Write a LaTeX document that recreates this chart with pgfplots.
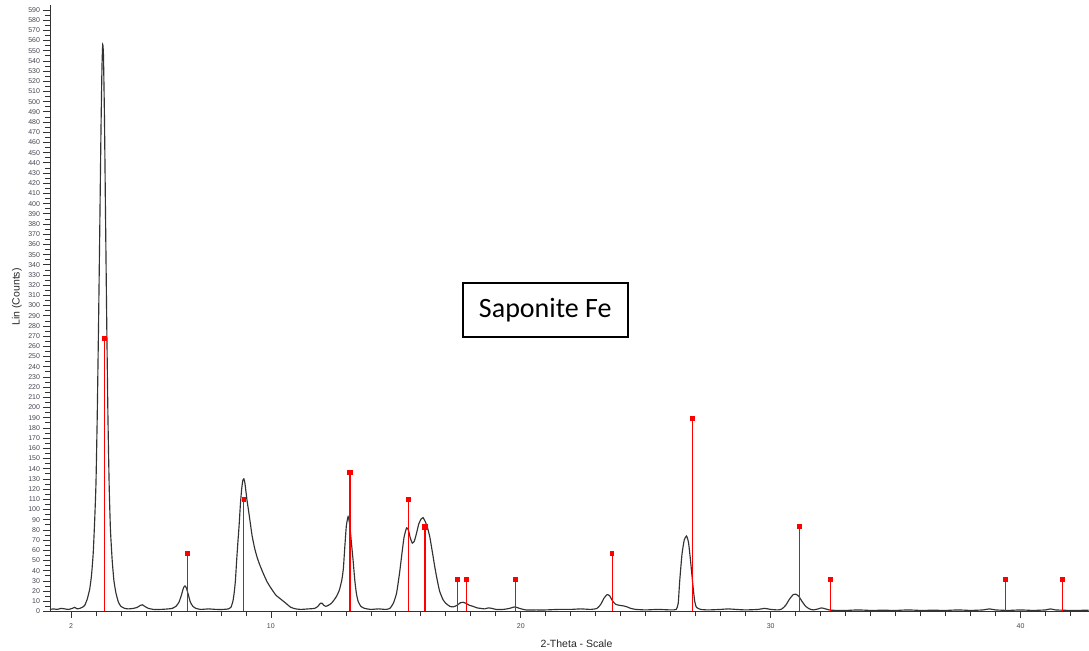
\documentclass[border=0pt]{standalone}
\usepackage{pgfplots}
\pgfplotsset{compat=1.18}
\usepackage{pgfplotstable}
\usepackage{fontspec}
\setmainfont{Liberation Sans}
\newfontfamily\calibri{Carlito}
\definecolor{tickgray}{RGB}{70,70,85}
\definecolor{curvegray}{RGB}{50,50,50}
\definecolor{stickred}{RGB}{255,0,0}

\pgfplotstableread{
x y
1.16 2
1.3 2.5
1.45 2
1.6 3
1.75 2.5
1.9 2
2.05 3
2.15 4
2.25 2.5
2.35 3
2.45 4
2.55 6
2.65 12
2.75 22
2.82 35
2.89 57
2.95 90
3.00 125
3.05 190
3.10 275
3.15 370
3.20 470
3.24 533
3.27 556
3.30 546
3.34 485
3.38 395
3.43 286
3.48 190
3.53 122
3.58 80
3.65 50
3.72 30
3.80 18
3.90 9
4.00 5
4.15 3
4.3 2.5
4.5 3
4.65 4
4.78 6
4.86 6.5
4.95 5
5.1 3
5.3 2
5.6 2
5.9 2.5
6.05 3
6.2 5
6.32 9
6.42 16
6.5 23
6.56 25
6.62 23
6.7 16
6.78 9
6.88 5
7.0 3
7.2 2
7.5 2.5
7.8 2
8.1 2
8.3 2.5
8.40 4
8.48 10
8.53 18
8.58 30
8.63 50
8.68 68
8.73 85
8.78 105
8.83 120
8.88 129
8.92 130
8.96 126
9.00 118
9.05 108
9.10 100
9.18 86
9.25 74
9.35 62
9.45 53
9.55 46
9.70 37
9.85 29
10.0 23
10.2 16
10.4 12
10.6 8
10.8 4
11.0 2.5
11.2 2
11.5 2.5
11.75 3
11.88 5
11.98 8
12.05 8
12.12 6
12.2 5
12.3 6
12.42 8
12.52 11
12.63 15
12.74 21
12.84 31
12.90 42
12.96 64
13.02 84
13.09 93
13.15 86
13.22 68
13.29 50
13.36 30
13.42 18
13.49 10
13.6 5
13.75 3
14.0 2
14.3 2.5
14.6 2
14.76 3
14.9 8
15.03 18
15.15 38
15.25 58
15.33 73
15.43 82
15.50 80
15.58 72
15.66 67
15.74 69
15.82 76
15.92 86
16.02 91
16.09 92
16.18 88
16.27 82
16.36 73
16.45 60
16.55 45
16.63 34
16.75 20
16.89 11.5
17.0 8
17.16 5
17.3 4.5
17.45 6
17.58 8.5
17.69 9
17.8 8
17.95 6
18.09 5
18.25 3.5
18.4 3
18.55 2.5
18.7 3.5
18.85 3
19.0 2
19.3 2
19.55 3
19.76 4.5
19.95 3
20.2 1.5
20.6 1.5
21.0 1.5
21.5 2
22.0 2
22.4 2.5
22.8 2
23.05 3
23.2 7
23.33 13
23.45 16.5
23.55 15.5
23.68 10
23.8 7
23.95 6
24.1 5.5
24.25 4.5
24.4 3
24.6 2
25.0 1.5
25.5 2
26.0 1.5
26.22 2
26.30 8
26.36 30
26.45 56
26.54 70
26.63 74
26.71 68
26.80 48
26.89 25
26.96 10
27.03 4
27.2 2
27.5 1.5
28.0 2
28.3 2.5
28.6 2
29.0 1.5
29.5 2
29.76 3
30.0 2
30.3 1.5
30.45 2.5
30.6 6
30.75 12
30.9 16.5
31.0 17
31.12 15
31.25 10
31.4 5
31.55 2.5
31.7 1.5
31.9 2.5
32.03 3.5
32.2 2.5
32.4 1.2
33.0 1
33.5 1.5
34.0 1
34.5 1.2
35.0 1
35.5 1.5
36.0 1
36.5 1.2
37.0 1
37.5 1.5
38.0 1
38.5 1.5
38.76 2.5
39.0 1.5
39.5 1
40.0 1.5
40.5 1
41.0 1.5
41.2 2.5
41.4 1.5
42.0 1
42.72 1.2
}\curvedata

\pgfplotstableread{
x y
3.35 268
6.65 57
8.92 110
15.52 110
17.47 31
17.84 31
19.80 31
23.65 57
26.88 189
31.15 83
32.39 31
39.40 31
41.67 31
}\sticks

\pgfplotstableread{
x y
13.17 136
16.16 83
}\thicksticks

\begin{document}
\begin{tikzpicture}
\begin{axis}[
  scale only axis,
  width=1039pt, height=606.9pt,
  xmin=1.16, xmax=42.72, ymin=0, ymax=595,
  axis lines=left,
  axis line style={-, line width=0.9pt, black!80},
  tick align=outside,
  tick style={black!80, line width=0.7pt},
  xtick={2,10,20,30,40},
  minor xtick={3,4,5,6,7,8,9,11,12,13,14,15,16,17,18,19,21,22,23,24,25,26,27,28,29,31,32,33,34,35,36,37,38,39,41,42},
  ytick={0,10,...,590},
  minor ytick={5,15,...,585},
  major tick length=6.5pt,
  minor tick length=5pt,
  ticklabel style={font=\fontsize{7}{7.5}\selectfont, text=tickgray},
  /pgf/number format/assume math mode=true,
  xticklabel style={yshift=-2pt},
  xlabel={2-Theta - Scale},
  ylabel={Lin (Counts)},
  label style={font=\fontsize{10.5}{12}\selectfont, text=black!85},
  xlabel style={at={(axis description cs:0.507,-0.0527)}, anchor=center},
  ylabel style={at={(axis description cs:-0.0318,0.5185)}, anchor=center},
]
\addplot[curvegray, line width=1.15pt, smooth, tension=0.3] table[x=x,y=y] {\curvedata};
\addplot[stickred, line width=1pt, ycomb, mark=square*, mark size=1.9pt,
  mark options={fill=stickred, draw=stickred, line width=0pt}] table[x=x,y=y] {\sticks};
\addplot[stickred, line width=2pt, ycomb, mark=square*, mark size=2.2pt,
  mark options={fill=stickred, draw=stickred, line width=0pt}] table[x=x,y=y] {\thicksticks};
\node[draw=black, line width=1.6pt, minimum width=165pt, minimum height=54pt,
  inner sep=0pt, font=\calibri\fontsize{28}{32}\selectfont] at (axis cs:20.98,295.8) {Saponite Fe};
\end{axis}
\path (current axis.south west) ++(-50pt,-39.3pt) rectangle ++(1089pt,651pt);
\end{tikzpicture}
\end{document}
